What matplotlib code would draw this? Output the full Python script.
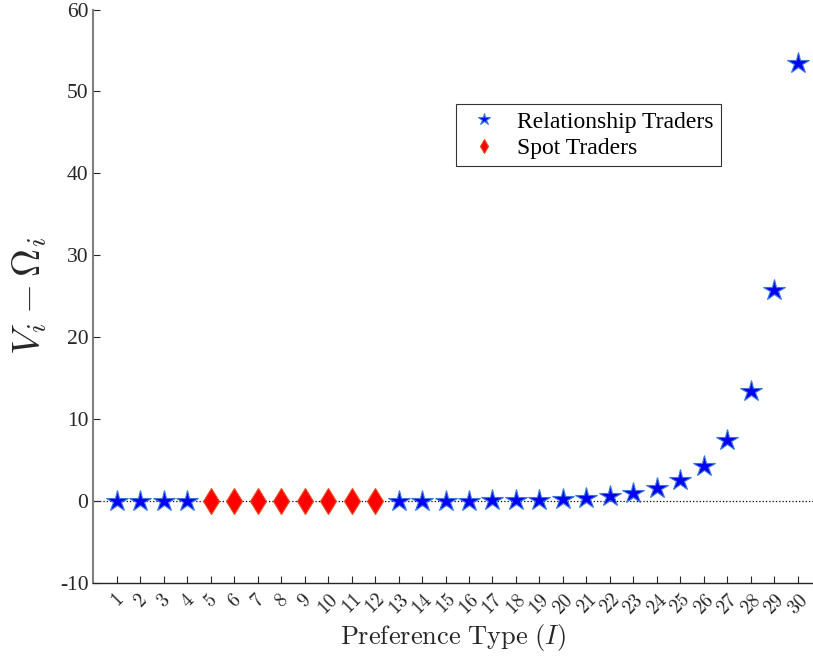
import numpy as np
import matplotlib.pyplot as plt

plt.rcParams['mathtext.fontset'] = 'cm'

# relationship traders (blue stars)
rel_types = [1, 2, 3, 4, 13, 14, 15, 16, 17, 18, 19, 20, 21, 22, 23, 24, 25, 26, 27, 28, 29, 30]
rel_vals = [0.0, 0.0, 0.0, 0.0, 0.01, 0.02, 0.03, 0.05, 0.08, 0.12, 0.18, 0.3, 0.4, 0.65,
            1.0, 1.6, 2.6, 4.3, 7.5, 13.4, 25.8, 53.5]
# spot traders (red diamonds)
spot_types = [5, 6, 7, 8, 9, 10, 11, 12]
spot_vals = [0.0, 0.0, 0.0, 0.0, 0.0, 0.0, 0.0, 0.0]

x_ticks = list(range(1, 31))
y_ticks = [-10, 0, 10, 20, 30, 40, 50, 60]

fig = plt.figure(figsize=(8.13, 6.56), dpi=100)
ax = fig.add_axes([0.1148, 0.1113, 0.8852, 0.8742])

ax.plot([0, 31], [0, 0], ':', color='black', lw=0.9, zorder=1)
ax.plot(rel_types, rel_vals, '*', ms=16, mfc='#0000f5', mec='#3a78d8', mew=0.8,
        label='Relationship Traders', zorder=3)
ax.plot(spot_types, spot_vals, 'd', ms=13, mfc='#ff0000', mec='#e84a1a', mew=0.8,
        label='Spot Traders', zorder=3)

ax.set_xlim(0, 30.65)
ax.set_ylim(-10, 60)
ax.set_xticks(x_ticks)
ax.set_xticklabels([f'${t}$' for t in x_ticks], rotation=45, fontsize=14)
ax.set_yticks(y_ticks)
ax.set_yticklabels([str(t) for t in y_ticks], fontfamily='Liberation Serif', fontsize=15.5)
ax.tick_params(direction='in', length=5, width=0.8, colors='#262626')
ax.tick_params(axis='x', pad=5)

for s in ['top', 'right']:
    ax.spines[s].set_visible(False)
ax.spines['left'].set_color('#808080')
ax.spines['left'].set_linewidth(1.5)
ax.spines['bottom'].set_color('#262626')
ax.spines['bottom'].set_linewidth(1.0)

ax.set_xlabel(r'$\mathrm{Preference\ Type\ }(I)$', fontsize=19, color='#262626', labelpad=3)
ax.set_ylabel(r'$V_i-\Omega_i$', fontsize=28, color='#262626', labelpad=8)

leg = ax.legend(loc='upper left', bbox_to_anchor=(0.504, 0.835), borderaxespad=0,
                markerscale=0.55, prop={'family': 'Liberation Serif', 'size': 17},
                frameon=True, fancybox=False, edgecolor='black', handletextpad=0.5,
                borderpad=0.3, labelspacing=0.2, handlelength=1.8)
leg.get_frame().set_linewidth(0.8)

fig.savefig('out.png', dpi=100)
